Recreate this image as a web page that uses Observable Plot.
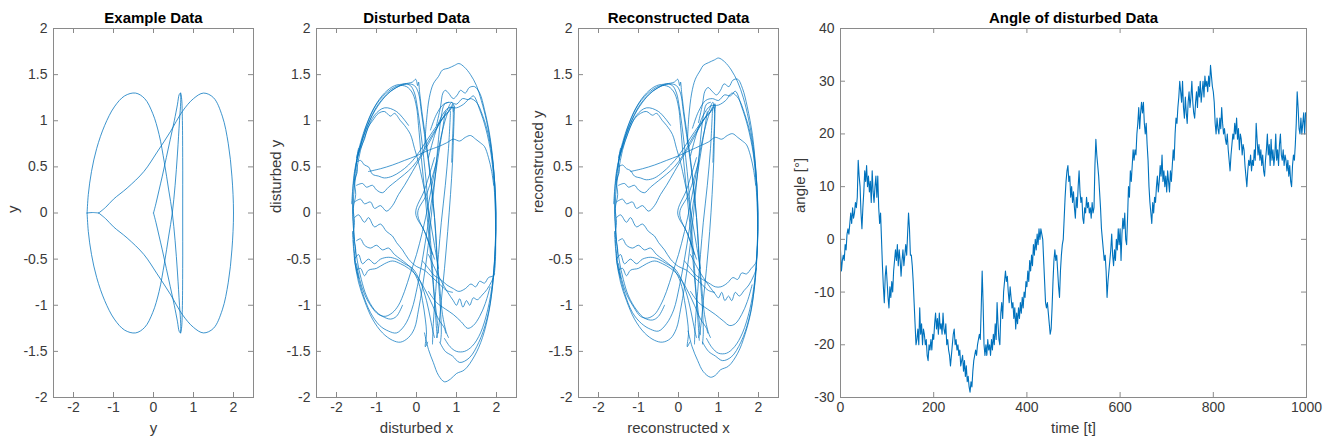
<!DOCTYPE html>
<html><head><meta charset="utf-8">
<script src="https://cdn.jsdelivr.net/npm/d3@7"></script>
<script src="https://cdn.jsdelivr.net/npm/@observablehq/plot@0.6"></script>
<style>
body{margin:0;background:#fff;}
#wrap{position:relative;width:1333px;height:445px;overflow:hidden;background:#fff;}
#wrap svg{position:absolute;top:0;}
</style></head><body><div id="wrap"></div>
<script>
// ---------- Titles / labels ----------
const titles = ["Example Data", "Disturbed Data", "Reconstructed Data", "Angle of disturbed Data"];
const xLabels = ["y", "disturbed x", "reconstructed x", "time [t]"];
const yLabels = ["y", "disturbed y", "reconstructed y", "angle [°]"];
const xyTicksX = [-2, -1, 0, 1, 2];
const xyTicksY = [-2, -1.5, -1, -0.5, 0, 0.5, 1, 1.5, 2];
const angleTicksX = [0, 200, 400, 600, 800, 1000];
const angleTicksY = [-30, -20, -10, 0, 10, 20, 30, 40];

// ---------- Example data (traced strokes, [x, y]) ----------
const exampleUpperLoop = [[-1.66,0],[-1.63,0.2],[-1.55,0.45],[-1.42,0.7],[-1.22,0.95],[-0.98,1.15],[-0.72,1.27],[-0.45,1.3],[-0.22,1.24],[-0.02,1.08],[0.14,0.85],[0.27,0.55],[0.38,0.25],[0.47,0],[0.54,-0.3],[0.6,-0.65],[0.65,-1.0],[0.68,-1.2],[0.68,-1.3]];
const exampleLowerLoop = [[-1.66,0],[-1.63,-0.2],[-1.55,-0.45],[-1.42,-0.7],[-1.22,-0.95],[-0.98,-1.15],[-0.72,-1.27],[-0.45,-1.3],[-0.22,-1.24],[-0.02,-1.08],[0.14,-0.85],[0.27,-0.55],[0.38,-0.25],[0.47,0],[0.54,0.3],[0.6,0.65],[0.65,1.0],[0.68,1.2],[0.68,1.3]];
const exampleSpindle = [[0,0],[0.06,0.1],[0.14,0.25],[0.22,0.4],[0.32,0.6],[0.42,0.8],[0.52,1.0],[0.6,1.18],[0.64,1.28],[0.67,1.3],[0.7,1.25],[0.72,1.05],[0.73,0.6],[0.73,0],[0.73,-0.6],[0.72,-1.05],[0.7,-1.25],[0.67,-1.3],[0.64,-1.28],[0.6,-1.18],[0.52,-1.0],[0.42,-0.8],[0.32,-0.6],[0.22,-0.4],[0.14,-0.25],[0.06,-0.1],[0,0]];
const exampleRightLoop = [[-1.37,0],[-1.2,0.06],[-1.0,0.15],[-0.66,0.27],[-0.24,0.45],[0.09,0.66],[0.42,0.88],[0.72,1.1],[1.0,1.24],[1.25,1.3],[1.5,1.25],[1.72,1.05],[1.87,0.75],[1.96,0.4],[2.0,0],[1.96,-0.4],[1.87,-0.75],[1.72,-1.05],[1.5,-1.25],[1.25,-1.3],[1.0,-1.24],[0.72,-1.1],[0.42,-0.88],[0.09,-0.66],[-0.24,-0.45],[-0.66,-0.27],[-1.0,-0.15],[-1.2,-0.06],[-1.37,0]];
const exampleLink = [[-1.66,0],[-1.52,0.005],[-1.37,0]];
const exampleStrokes = [exampleUpperLoop, exampleLowerLoop, exampleSpindle, exampleRightLoop, exampleLink];

// ---------- Disturbed data (traced strokes) ----------
const disturbedStrokes = [
  [[0.2,0.7],[0.25,1.0],[0.32,1.25],[0.42,1.4],[0.55,1.48],[0.65,1.55],[0.8,1.57],[0.95,1.6],[1.06,1.62],[1.2,1.58],[1.35,1.5],[1.5,1.38],[1.62,1.22],[1.75,1.0],[1.87,0.7],[1.95,0.35],[1.98,0],[1.97,-0.35],[1.92,-0.7],[1.82,-1.05],[1.65,-1.35],[1.45,-1.55],[1.2,-1.7],[1.0,-1.74],[0.85,-1.8],[0.7,-1.83],[0.55,-1.76],[0.42,-1.62],[0.3,-1.48],[0.2,-1.3]],
  [[0.5,0.95],[0.6,1.15],[0.66,1.3],[0.72,1.33],[0.8,1.3],[0.92,1.24],[1.02,1.28],[1.1,1.33],[1.22,1.3],[1.32,1.36],[1.45,1.37],[1.58,1.3],[1.7,1.12],[1.84,0.82],[1.94,0.42],[1.99,0],[1.97,-0.4],[1.9,-0.8],[1.76,-1.15],[1.56,-1.4],[1.32,-1.57],[1.08,-1.62],[0.9,-1.55],[0.72,-1.5],[0.58,-1.4]],
  [[0.35,0.9],[0.5,1.07],[0.68,1.18],[0.85,1.2],[1.0,1.18],[1.15,1.24],[1.3,1.23],[1.42,1.27],[1.58,1.12],[1.73,0.92],[1.87,0.62],[1.95,0.22],[1.98,-0.2],[1.96,-0.6],[1.92,-0.68],[1.8,-0.7],[1.7,-0.76],[1.58,-0.74],[1.48,-0.8],[1.36,-0.77],[1.22,-0.82],[1.06,-0.85],[0.92,-0.82],[0.76,-0.78],[0.6,-0.72],[0.45,-0.68],[0.3,-0.6],[0.15,-0.52]],
  [[0.3,-0.45],[0.48,-0.62],[0.62,-0.74],[0.78,-0.86],[0.92,-0.95],[1.0,-1.0],[1.08,-0.93],[1.16,-1.02],[1.25,-0.95],[1.33,-1.0],[1.42,-0.92],[1.52,-0.94],[1.64,-0.89],[1.76,-0.83],[1.88,-0.74],[1.95,-0.66]],
  [[0.3,-0.85],[0.5,-0.97],[0.72,-1.04],[0.92,-1.1],[1.12,-1.18],[1.28,-1.25],[1.42,-1.22],[1.58,-1.12],[1.72,-0.98],[1.84,-0.8]],
  [[0.3,0.6],[0.45,0.84],[0.62,1.04],[0.8,1.14],[1.0,1.14],[1.18,1.18],[1.34,1.24],[1.5,1.2],[1.65,1.06],[1.8,0.84],[1.92,0.5],[1.98,0.1],[1.97,-0.35],[1.9,-0.75],[1.78,-1.05],[1.6,-1.3],[1.4,-1.44],[1.2,-1.5],[1.0,-1.5],[0.84,-1.45],[0.7,-1.36]],
  [[-1.2,0.45],[-0.9,0.48],[-0.6,0.52],[-0.3,0.57],[0,0.62],[0.3,0.68],[0.55,0.72],[0.75,0.76],[0.92,0.8],[1.08,0.78],[1.22,0.82],[1.35,0.84],[1.48,0.8],[1.6,0.76],[1.7,0.72],[1.8,0.6],[1.88,0.45],[1.93,0.3]],
  [[-1.55,-0.3],[-1.6,0],[-1.58,0.3],[-1.5,0.55],[-1.35,0.8],[-1.15,1.02],[-0.9,1.2],[-0.65,1.32],[-0.4,1.38],[-0.2,1.4],[-0.05,1.38],[0.05,1.3],[0.12,1.1],[0.2,0.85],[0.3,0.55],[0.38,0.25],[0.45,-0.05],[0.5,-0.4],[0.55,-0.75],[0.6,-1.05],[0.62,-1.3],[0.6,-1.4]],
  [[-1.62,0.1],[-1.55,0.45],[-1.42,0.7],[-1.22,0.95],[-1.0,1.15],[-0.75,1.28],[-0.5,1.36],[-0.3,1.4],[-0.15,1.38],[-0.05,1.3],[0.02,1.15],[0.1,0.9],[0.18,0.6],[0.25,0.3],[0.3,0],[0.35,-0.3],[0.4,-0.6],[0.45,-0.95],[0.5,-1.25],[0.52,-1.35]],
  [[-1.5,0.6],[-1.3,0.9],[-1.05,1.15],[-0.8,1.3],[-0.55,1.38],[-0.3,1.4],[-0.1,1.42],[-0.02,1.45],[0.03,1.38],[0.05,1.42],[0.08,1.3],[0.15,1.05],[0.25,0.75],[0.35,0.4],[0.42,0.1],[0.48,-0.2],[0.52,-0.5],[0.58,-0.8],[0.65,-1.1],[0.75,-1.3],[0.8,-1.35]],
  [[-1.45,0.65],[-1.25,0.95],[-1.0,1.18],[-0.7,1.32],[-0.45,1.38],[-0.25,1.37],[-0.1,1.3],[0,1.15],[0.05,0.95],[0.12,0.6],[0.2,0.25],[0.28,-0.1],[0.35,-0.45],[0.42,-0.8],[0.5,-1.1],[0.55,-1.3]],
  [[-1.55,0.35],[-1.5,0.55],[-1.4,0.7],[-1.3,0.8],[-1.22,0.92],[-1.1,1.0],[-0.95,1.08],[-0.8,1.1],[-0.65,1.05],[-0.55,1.08],[-0.4,1.0],[-0.3,0.95],[-0.15,0.85],[-0.05,0.7],[0.05,0.55],[0.15,0.35],[0.25,0.15],[0.35,-0.1],[0.45,-0.35],[0.55,-0.6]],
  [[-1.6,-0.2],[-1.55,-0.5],[-1.45,-0.75],[-1.3,-0.95],[-1.1,-1.15],[-0.85,-1.3],[-0.6,-1.38],[-0.4,-1.4],[-0.2,-1.35],[-0.05,-1.25],[0.05,-1.05],[0.15,-0.8],[0.25,-0.5],[0.33,-0.2],[0.4,0.1],[0.48,0.45],[0.55,0.8],[0.62,1.05],[0.7,1.18],[0.8,1.2]],
  [[-1.5,-0.55],[-1.42,-0.72],[-1.3,-0.88],[-1.12,-1.02],[-0.95,-1.1],[-0.78,-1.12],[-0.6,-1.08],[-0.45,-1.0],[-0.3,-0.85],[-0.15,-0.65],[0,-0.45],[0.15,-0.2],[0.3,0.1],[0.45,0.45],[0.6,0.8],[0.75,1.05],[0.85,1.15]],
  [[-1.58,-0.3],[-1.5,-0.6],[-1.36,-0.85],[-1.15,-1.08],[-0.92,-1.22],[-0.7,-1.28],[-0.5,-1.3],[-0.3,-1.22],[-0.12,-1.05],[0.02,-0.8],[0.15,-0.5],[0.28,-0.15],[0.4,0.2],[0.52,0.55],[0.65,0.9],[0.72,1.1]],
  [[-0.2,0.95],[-0.5,1.1],[-0.8,1.14],[-1.05,1.06],[-1.25,0.88],[-1.4,0.68],[-1.5,0.45],[-1.57,0.2],[-1.58,-0.05],[-1.55,-0.3],[-1.48,-0.52],[-1.38,-0.72],[-1.25,-0.9],[-1.05,-1.05],[-0.85,-1.12],[-0.65,-1.15],[-0.5,-1.12],[-0.35,-1.0]],
  [[-1.45,0.7],[-1.5,0.55],[-1.48,0.45],[-1.55,0.35],[-1.52,0.2],[-1.58,0.05],[-1.55,-0.1],[-1.58,-0.25],[-1.52,-0.4],[-1.55,-0.5],[-1.5,-0.62],[-1.45,-0.7]],
  [[-1.5,0.55],[-1.4,0.57],[-1.3,0.52],[-1.2,0.5],[-1.1,0.42],[-0.95,0.4],[-0.8,0.38],[-0.6,0.4],[-0.4,0.45],[-0.2,0.52],[0,0.62],[0.2,0.75],[0.4,0.88],[0.6,1.0],[0.8,1.1],[0.9,1.15],[0.92,1.05],[0.9,0.8],[0.88,0.55]],
  [[-1.5,0.3],[-1.35,0.32],[-1.25,0.28],[-1.1,0.3],[-1.0,0.25],[-0.85,0.22],[-0.7,0.28],[-0.5,0.35],[-0.3,0.42],[-0.1,0.5],[0.1,0.62],[0.3,0.78],[0.5,0.92],[0.7,1.05],[0.85,1.12],[0.9,1.18],[0.92,1.1]],
  [[-1.55,0.12],[-1.4,0.15],[-1.3,0.1],[-1.15,0.12],[-1.05,0.05],[-0.9,0.08],[-0.75,0.02],[-0.6,0.08],[-0.45,0.2],[-0.3,0.3],[-0.1,0.45],[0.1,0.6],[0.3,0.75],[0.55,0.95],[0.75,1.1],[0.88,1.2],[0.95,1.15]],
  [[-1.55,-0.05],[-1.45,-0.02],[-1.3,-0.1],[-1.2,-0.05],[-1.05,-0.15],[-0.9,-0.12],[-0.75,-0.2],[-0.6,-0.25],[-0.5,-0.32],[-0.35,-0.4],[-0.2,-0.5],[0,-0.58],[0.2,-0.62],[0.4,-0.7],[0.6,-0.78],[0.75,-0.84],[0.9,-0.86]],
  [[-1.5,-0.3],[-1.4,-0.28],[-1.3,-0.35],[-1.15,-0.38],[-1.0,-0.35],[-0.85,-0.4],[-0.7,-0.38],[-0.55,-0.45],[-0.4,-0.5],[-0.25,-0.55],[-0.1,-0.62],[0.05,-0.75],[0.15,-0.95],[0.22,-1.15],[0.25,-1.3],[0.22,-1.45],[0.28,-1.4]],
  [[-1.55,-0.5],[-1.45,-0.45],[-1.35,-0.55],[-1.2,-0.5],[-1.05,-0.55],[-0.9,-0.5],[-0.7,-0.48],[-0.5,-0.5],[-0.3,-0.55],[-0.1,-0.6],[0.1,-0.75],[0.25,-0.95],[0.35,-1.15],[0.42,-1.3],[0.45,-1.35]],
  [[-1.5,-0.62],[-1.4,-0.6],[-1.3,-0.68],[-1.2,-0.62],[-1.0,-0.6],[-0.8,-0.55],[-0.6,-0.52],[-0.4,-0.55],[-0.2,-0.6],[0,-0.68],[0.2,-0.82],[0.4,-1.0],[0.55,-1.15],[0.7,-1.25],[0.73,-1.3]],
  [[0.45,0.6],[0.2,0.25],[-0.02,0],[0.2,-0.2],[0.4,-0.45]],
  [[0.5,0.55],[0.25,0.2],[0.03,0],[0.25,-0.25],[0.45,-0.5]],
  [[0.95,1.15],[0.93,0.9],[0.9,0.55],[0.85,0.2],[0.78,-0.2],[0.7,-0.6],[0.62,-0.95],[0.55,-1.25],[0.5,-1.35]],
  [[0.85,1.1],[0.8,0.7],[0.72,0.3],[0.62,-0.1],[0.55,-0.45],[0.48,-0.85],[0.42,-1.2],[0.4,-1.42]]
];

// ---------- Reconstructed data (traced strokes) ----------
const reconstructedStrokes = [
  [[0.22,0.75],[0.26,1.05],[0.33,1.3],[0.42,1.45],[0.55,1.55],[0.62,1.6],[0.75,1.63],[0.9,1.66],[1.0,1.68],[1.15,1.64],[1.32,1.55],[1.48,1.42],[1.62,1.25],[1.75,1.02],[1.87,0.72],[1.95,0.36],[1.98,0],[1.97,-0.35],[1.92,-0.7],[1.82,-1.05],[1.66,-1.32],[1.48,-1.52],[1.25,-1.66],[1.05,-1.7],[0.92,-1.76],[0.8,-1.78],[0.62,-1.72],[0.48,-1.6],[0.34,-1.45],[0.24,-1.28]],
  [[0.5,0.98],[0.6,1.18],[0.66,1.32],[0.74,1.36],[0.84,1.32],[0.95,1.28],[1.05,1.33],[1.14,1.4],[1.26,1.37],[1.36,1.44],[1.48,1.45],[1.6,1.35],[1.72,1.15],[1.85,0.84],[1.94,0.43],[1.99,0],[1.97,-0.4],[1.9,-0.8],[1.76,-1.15],[1.56,-1.4],[1.32,-1.56],[1.1,-1.6],[0.92,-1.55],[0.75,-1.5],[0.6,-1.4]],
  [[0.35,0.92],[0.5,1.1],[0.68,1.22],[0.85,1.24],[1.0,1.22],[1.15,1.28],[1.3,1.27],[1.42,1.32],[1.58,1.15],[1.73,0.94],[1.87,0.64],[1.95,0.22],[1.98,-0.2],[1.95,-0.5],[1.92,-0.55],[1.82,-0.6],[1.7,-0.66],[1.58,-0.65],[1.48,-0.72],[1.36,-0.7],[1.22,-0.76],[1.06,-0.8],[0.92,-0.8],[0.76,-0.76],[0.6,-0.72],[0.45,-0.68],[0.3,-0.6],[0.15,-0.52]],
  [[0.3,-0.45],[0.48,-0.6],[0.62,-0.7],[0.78,-0.8],[0.92,-0.88],[1.0,-0.92],[1.08,-0.86],[1.16,-0.95],[1.25,-0.9],[1.33,-0.95],[1.42,-0.86],[1.52,-0.9],[1.64,-0.84],[1.76,-0.78],[1.88,-0.68],[1.95,-0.6]],
  [[0.3,-0.85],[0.5,-0.97],[0.72,-1.04],[0.92,-1.1],[1.12,-1.17],[1.28,-1.22],[1.42,-1.2],[1.58,-1.1],[1.72,-0.96],[1.84,-0.78]],
  [[0.3,0.62],[0.45,0.86],[0.62,1.06],[0.8,1.16],[1.0,1.17],[1.18,1.22],[1.34,1.3],[1.5,1.24],[1.65,1.08],[1.8,0.85],[1.92,0.5],[1.98,0.1],[1.97,-0.35],[1.9,-0.75],[1.78,-1.05],[1.6,-1.3],[1.4,-1.45],[1.2,-1.52],[1.0,-1.52],[0.84,-1.46],[0.7,-1.36]],
  [[-1.2,0.45],[-0.9,0.48],[-0.6,0.52],[-0.3,0.57],[0,0.62],[0.3,0.68],[0.55,0.73],[0.75,0.77],[0.92,0.82],[1.08,0.8],[1.22,0.84],[1.35,0.86],[1.48,0.82],[1.6,0.78],[1.7,0.74],[1.8,0.62],[1.88,0.46],[1.93,0.3]],
  [[-1.55,-0.3],[-1.6,0],[-1.58,0.3],[-1.5,0.55],[-1.35,0.8],[-1.15,1.02],[-0.9,1.2],[-0.65,1.32],[-0.4,1.38],[-0.2,1.4],[-0.05,1.38],[0.05,1.3],[0.12,1.1],[0.2,0.85],[0.3,0.55],[0.38,0.25],[0.45,-0.05],[0.5,-0.4],[0.55,-0.75],[0.6,-1.05],[0.62,-1.3],[0.6,-1.42]],
  [[-1.62,0.1],[-1.55,0.45],[-1.42,0.7],[-1.22,0.95],[-1.0,1.15],[-0.75,1.28],[-0.5,1.36],[-0.3,1.4],[-0.15,1.38],[-0.05,1.3],[0.02,1.15],[0.1,0.9],[0.18,0.6],[0.25,0.3],[0.3,0],[0.35,-0.3],[0.4,-0.6],[0.45,-0.95],[0.5,-1.25],[0.52,-1.38]],
  [[-1.5,0.6],[-1.3,0.9],[-1.05,1.15],[-0.8,1.3],[-0.55,1.38],[-0.3,1.4],[-0.1,1.42],[-0.02,1.45],[0.03,1.38],[0.05,1.42],[0.08,1.3],[0.15,1.05],[0.25,0.75],[0.35,0.4],[0.42,0.1],[0.48,-0.2],[0.52,-0.5],[0.58,-0.8],[0.65,-1.1],[0.75,-1.3],[0.8,-1.35]],
  [[-1.45,0.65],[-1.25,0.95],[-1.0,1.18],[-0.7,1.32],[-0.45,1.38],[-0.25,1.37],[-0.1,1.3],[0,1.15],[0.05,0.95],[0.12,0.6],[0.2,0.25],[0.28,-0.1],[0.35,-0.45],[0.42,-0.8],[0.5,-1.1],[0.55,-1.32]],
  [[-1.55,0.35],[-1.5,0.55],[-1.42,0.68],[-1.32,0.8],[-1.22,0.92],[-1.1,1.02],[-0.95,1.08],[-0.8,1.1],[-0.65,1.06],[-0.55,1.08],[-0.4,1.0],[-0.3,0.95],[-0.15,0.85],[-0.05,0.7],[0.05,0.55],[0.15,0.35],[0.25,0.15],[0.35,-0.1],[0.45,-0.35],[0.55,-0.6]],
  [[-1.6,-0.2],[-1.55,-0.5],[-1.45,-0.75],[-1.3,-0.95],[-1.1,-1.15],[-0.85,-1.3],[-0.6,-1.38],[-0.4,-1.4],[-0.2,-1.36],[-0.05,-1.25],[0.05,-1.05],[0.15,-0.8],[0.25,-0.5],[0.33,-0.2],[0.4,0.1],[0.48,0.45],[0.55,0.8],[0.62,1.05],[0.7,1.18],[0.8,1.2]],
  [[-1.5,-0.55],[-1.42,-0.72],[-1.3,-0.88],[-1.12,-1.02],[-0.95,-1.12],[-0.78,-1.14],[-0.6,-1.1],[-0.45,-1.0],[-0.3,-0.85],[-0.15,-0.65],[0,-0.45],[0.15,-0.2],[0.3,0.1],[0.45,0.45],[0.6,0.8],[0.75,1.05],[0.85,1.15]],
  [[-1.58,-0.3],[-1.5,-0.6],[-1.36,-0.85],[-1.15,-1.08],[-0.92,-1.2],[-0.7,-1.26],[-0.5,-1.28],[-0.3,-1.2],[-0.12,-1.05],[0.02,-0.8],[0.15,-0.5],[0.28,-0.15],[0.4,0.2],[0.52,0.55],[0.65,0.9],[0.72,1.1]],
  [[-0.2,0.95],[-0.5,1.1],[-0.8,1.14],[-1.05,1.06],[-1.25,0.88],[-1.4,0.68],[-1.5,0.45],[-1.57,0.2],[-1.58,-0.05],[-1.55,-0.3],[-1.48,-0.52],[-1.38,-0.72],[-1.25,-0.9],[-1.05,-1.05],[-0.85,-1.14],[-0.65,-1.16],[-0.5,-1.12],[-0.35,-1.0]],
  [[-1.45,0.7],[-1.5,0.55],[-1.48,0.45],[-1.55,0.35],[-1.52,0.2],[-1.58,0.05],[-1.55,-0.1],[-1.58,-0.25],[-1.52,-0.4],[-1.55,-0.5],[-1.5,-0.62],[-1.45,-0.7]],
  [[-1.5,0.5],[-1.4,0.52],[-1.3,0.48],[-1.2,0.46],[-1.1,0.4],[-0.95,0.38],[-0.8,0.36],[-0.6,0.38],[-0.4,0.44],[-0.2,0.52],[0,0.62],[0.2,0.75],[0.4,0.88],[0.6,1.0],[0.8,1.1],[0.88,1.15],[0.9,1.05],[0.88,0.8],[0.86,0.55]],
  [[-1.5,0.3],[-1.35,0.32],[-1.25,0.28],[-1.1,0.3],[-1.0,0.25],[-0.85,0.22],[-0.7,0.28],[-0.5,0.35],[-0.3,0.42],[-0.1,0.5],[0.1,0.62],[0.3,0.78],[0.5,0.92],[0.7,1.05],[0.85,1.12],[0.88,1.18],[0.9,1.1]],
  [[-1.55,0.12],[-1.4,0.15],[-1.3,0.1],[-1.15,0.12],[-1.05,0.05],[-0.9,0.08],[-0.75,0.02],[-0.6,0.08],[-0.45,0.2],[-0.3,0.3],[-0.1,0.45],[0.1,0.6],[0.3,0.75],[0.55,0.95],[0.75,1.1],[0.86,1.2],[0.92,1.15]],
  [[-1.55,-0.05],[-1.45,-0.02],[-1.3,-0.1],[-1.2,-0.05],[-1.05,-0.15],[-0.9,-0.12],[-0.75,-0.2],[-0.6,-0.25],[-0.5,-0.32],[-0.35,-0.4],[-0.2,-0.5],[0,-0.58],[0.2,-0.62],[0.4,-0.7],[0.6,-0.78],[0.75,-0.84],[0.9,-0.86]],
  [[-1.5,-0.3],[-1.4,-0.28],[-1.3,-0.35],[-1.15,-0.38],[-1.0,-0.35],[-0.85,-0.4],[-0.7,-0.38],[-0.55,-0.45],[-0.4,-0.5],[-0.25,-0.55],[-0.1,-0.62],[0.05,-0.75],[0.15,-0.95],[0.22,-1.15],[0.25,-1.3],[0.22,-1.45],[0.28,-1.4]],
  [[-1.55,-0.5],[-1.45,-0.45],[-1.35,-0.55],[-1.2,-0.5],[-1.05,-0.55],[-0.9,-0.5],[-0.7,-0.48],[-0.5,-0.5],[-0.3,-0.55],[-0.1,-0.6],[0.1,-0.75],[0.25,-0.95],[0.35,-1.15],[0.42,-1.3],[0.45,-1.35]],
  [[-1.5,-0.62],[-1.4,-0.6],[-1.3,-0.68],[-1.2,-0.62],[-1.0,-0.6],[-0.8,-0.55],[-0.6,-0.52],[-0.4,-0.55],[-0.2,-0.6],[0,-0.68],[0.2,-0.82],[0.4,-1.0],[0.55,-1.15],[0.7,-1.25],[0.73,-1.3]],
  [[0.45,0.6],[0.2,0.25],[-0.02,0],[0.2,-0.2],[0.4,-0.45]],
  [[0.5,0.55],[0.25,0.2],[0.03,0],[0.25,-0.25],[0.45,-0.5]],
  [[0.92,1.18],[0.9,0.9],[0.88,0.55],[0.84,0.2],[0.78,-0.2],[0.7,-0.6],[0.62,-0.95],[0.55,-1.25],[0.5,-1.35]],
  [[0.85,1.12],[0.8,0.7],[0.72,0.3],[0.62,-0.1],[0.55,-0.45],[0.48,-0.85],[0.42,-1.2],[0.4,-1.42]]
];

// ---------- Angle of disturbed data (sampled every 2 time steps, t = 0..1000) ----------
const angleTime = d3.range(0, 1001, 2);
const angleValues = [
  -2,-6,-4,-3,-4,-1,-2,1,2,1, 3,5,3,6,4,5,7,6,8,15, 12,10,5,2,6,9,13,11,14,10, 12,9,11,7,13,9,7,10,12,8,
  12,6,3,5,0,-5,-9,-12,-7,-5, -8,-11,-13,-9,-11,-8,-10,-6,-4,-2, -4,-1,-5,-2,-4,-7,-4,-2,-5,-3, -1,-3,1,5,2,-3,-3,-5,-8,-12,
  -16,-20,-19,-17,-20,-13,-18,-16,-20,-17, -18,-20,-19,-22,-23,-20,-21,-19,-21,-18,
  -19,-16,-14,-17,-15,-18,-14,-17,-16,-18, -14,-17,-18,-16,-20,-19,-21,-22,-24,-22, -20,-18,-17,-20,-19,-21,-20,-22,-21,-24, -23,-22,-25,-23,-26,-24,-27,-26,-28,-29,
  -27,-28,-25,-23,-22,-21,-22,-20,-19,-18, -19,-13,-6,-12,-20,-22,-20,-22,-19,-21, -20,-22,-19,-21,-18,-20,-16,-19,-12,-16, -19,-20,-14,-12,-15,-10,-8,-6,-8,-7,
  -10,-12,-9,-11,-13,-12,-15,-13,-17,-14, -16,-13,-15,-12,-14,-11,-13,-10,-11,-8,
  -9,-6,-8,-4,-6,-3,-5,-1,-3,0, -2,1,-1,2,0,2,1,0,-4,-8, -12,-13,-12,-14,-16,-18,-17,-13,-8,-4, -2,-4,-3,-6,-9,-11,-6,-3,-1,0,
  4,8,11,13,14,11,12,8,10,7, 9,6,4,8,6,10,13,9,7,8, 4,3,6,5,8,6,7,5,6,4, 7,5,6,14,19,16,14,12,9,6,
  2,0,-2,-4,-3,-6,-11,-8,-6,-4, -2,1,-3,-5,-2,-4,0,-2,2,-1,
  2,-4,1,4,2,5,0,-1,4,10, 8,13,11,14,17,15,17,16,20,22, 25,21,24,26,24,26,22,20,22,18, 15,10,7,5,3,7,5,8,7,10,
  12,9,11,14,12,16,11,13,10,12, 9,13,11,9,13,11,14,17,15,20, 23,22,25,27,30,28,26,30,25,23, 27,24,22,26,28,25,27,30,26,24,
  23,26,28,25,29,27,30,26,28,30, 27,31,29,30,28,31,29,33,31,29,
  28,26,22,20,23,21,20,23,21,25, 22,20,21,19,18,20,17,15,13,16, 18,20,19,22,20,23,19,21,17,20, 19,16,18,17,14,12,10,13,15,14,
  16,13,15,14,17,15,22,19,16,18, 15,17,14,16,13,12,15,17,20,16, 18,14,19,15,17,14,16,20,15,17, 14,18,20,16,15,17,14,16,15,13,
  15,12,14,11,10,14,16,15,18,22, 28,25,21,20,23,20,22,24,20,24,
  24
];

// ---------- Rendering ----------
const FONT = "'Liberation Sans', Arial, Helvetica, sans-serif";
const BOX = "#8a8a8a";
const LINE = "#0072BD";
const fmt = d => String(d);

function strokesToRows(strokes) {
  return strokes.flatMap((s, k) => s.map(([x, y]) => ({x, y, k})));
}

function panel(o) {
  const H = 445, mT = 28, mB = 48;
  const pw = o.width - o.mL - o.mR, ph = H - mT - mB;
  const svg = Plot.plot({
    width: o.width, height: H,
    marginLeft: o.mL, marginRight: o.mR, marginTop: mT, marginBottom: mB,
    style: {fontFamily: FONT, fontSize: "14px", color: "#262626", background: "transparent", overflow: "visible"},
    x: {domain: o.xDomain, label: null, axis: null},
    y: {domain: o.yDomain, label: null, axis: null},
    marks: [
      ...o.marks,
      Plot.frame({stroke: BOX, strokeWidth: 1}),
      Plot.tickX(o.xTicks, {x: d => d, stroke: BOX, insetTop: ph - 5}),
      Plot.tickX(o.xTicks, {x: d => d, stroke: BOX, insetBottom: ph - 5}),
      Plot.tickY(o.yTicks, {y: d => d, stroke: BOX, insetRight: pw - 5}),
      Plot.tickY(o.yTicks, {y: d => d, stroke: BOX, insetLeft: pw - 5}),
      Plot.axisX(o.xTicks, {anchor: "bottom", tickSize: 0, tickPadding: 5, tickFormat: fmt, label: null, fontSize: 14, fill: "#3a3a3a"}),
      Plot.axisY(o.yTicks, {anchor: "left", tickSize: 0, tickPadding: 6, tickFormat: fmt, label: null, fontSize: 14, fill: "#3a3a3a"}),
      Plot.text([o.title], {frameAnchor: "top", dy: -6, lineAnchor: "bottom", text: d => d, fontWeight: "bold", fontSize: 15, fill: "#000"}),
      Plot.text([o.xLabel], {frameAnchor: "bottom", dy: 35, text: d => d, fontSize: 15, fill: "#3a3a3a"}),
      Plot.text([o.yLabel], {frameAnchor: "left", dx: -40, rotate: -90, text: d => d, fontSize: 15, fill: "#3a3a3a"})
    ]
  });
  svg.style.left = o.left + "px";
  document.getElementById("wrap").appendChild(svg);
}

const xyDomainX = [-2.5, 2.5], xyDomainY = [-2, 2];

panel({left: 0, width: 265, mL: 53, mR: 12, xDomain: xyDomainX, yDomain: xyDomainY, xTicks: xyTicksX, yTicks: xyTicksY,
  title: titles[0], xLabel: xLabels[0], yLabel: yLabels[0],
  marks: [Plot.line(strokesToRows(exampleStrokes), {x: "x", y: "y", z: "k", stroke: LINE, strokeWidth: 0.9, strokeOpacity: 0.85, curve: "catmull-rom"})]});

panel({left: 265, width: 265, mL: 51, mR: 14, xDomain: xyDomainX, yDomain: xyDomainY, xTicks: xyTicksX, yTicks: xyTicksY,
  title: titles[1], xLabel: xLabels[1], yLabel: yLabels[1],
  marks: [Plot.line(strokesToRows(disturbedStrokes), {x: "x", y: "y", z: "k", stroke: LINE, strokeWidth: 0.9, strokeOpacity: 0.8, curve: "catmull-rom"})]});

panel({left: 530, width: 265, mL: 48, mR: 17, xDomain: xyDomainX, yDomain: xyDomainY, xTicks: xyTicksX, yTicks: xyTicksY,
  title: titles[2], xLabel: xLabels[2], yLabel: yLabels[2],
  marks: [Plot.line(strokesToRows(reconstructedStrokes), {x: "x", y: "y", z: "k", stroke: LINE, strokeWidth: 0.9, strokeOpacity: 0.8, curve: "catmull-rom"})]});

panel({left: 795, width: 538, mL: 45, mR: 27, xDomain: [0, 1000], yDomain: [-30, 40], xTicks: angleTicksX, yTicks: angleTicksY,
  title: titles[3], xLabel: xLabels[3], yLabel: yLabels[3],
  marks: [Plot.line(angleTime.map((t, i) => ({t, v: angleValues[i]})), {x: "t", y: "v", stroke: LINE, strokeWidth: 1.1})]});
</script>
</body></html>
